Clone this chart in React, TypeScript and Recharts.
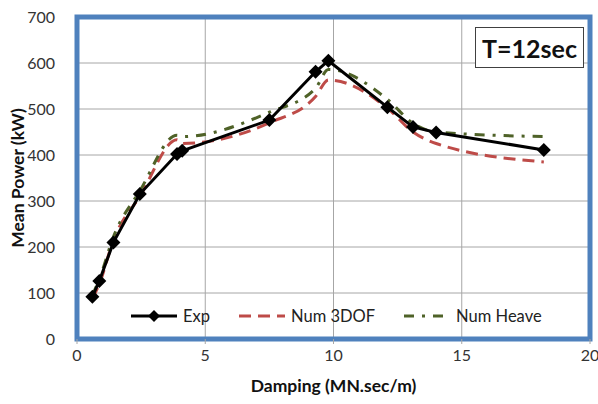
import { LineChart, Line, XAxis, YAxis, CartesianGrid, ReferenceArea, Label } from "recharts";

// damping values (MN.sec/m)
const damping = [0.6, 0.87, 1.42, 2.45, 3.9, 4.1, 7.5, 9.3, 9.8, 12.1, 13.1, 14.0, 18.2];
// mean power (kW)
const exp = [92, 126, 210, 315, 402, 409, 476, 581, 605, 504, 461, 449, 411];
const num3dof = [88, 120, 215, 310, 433, 425, 470, 527, 563, 502, 450, 425, 385];
const numHeave = [95, 130, 222, 322, 443, 440, 493, 545, 586, 521, 469, 450, 440];

const xTicks = [0, 5, 10, 15, 20];
const yTicks = [0, 100, 200, 300, 400, 500, 600, 700];

const data = damping.map((d, i) => ({
  damping: d,
  exp: exp[i],
  num3dof: num3dof[i],
  numHeave: numHeave[i],
}));

const FONT = "Lato, 'Open Sans', sans-serif";
const RED = "#BE4B48";
const GREEN = "#4F6228";
const BLUE = "#4F81BD";
const RED_DASH = "12 7";
const GREEN_DASH = "10 8 3 8";

function Diamond(props: any) {
  const { cx, cy } = props;
  if (cx == null || cy == null) return null;
  const r = 7;
  return (
    <path
      d={`M${cx},${cy - r} L${cx + r},${cy} L${cx},${cy + r} L${cx - r},${cy} Z`}
      fill="#000"
    />
  );
}

function LegendBox() {
  const items = [
    { name: "Exp", color: "#000", dash: undefined, marker: true, gap: 27 },
    { name: "Num 3DOF", color: RED, dash: RED_DASH, marker: false, gap: 27 },
    { name: "Num Heave", color: GREEN, dash: GREEN_DASH, marker: false, gap: 0 },
  ];
  return (
    <div style={{ display: "flex", fontFamily: FONT, fontSize: 16.5, color: "#222" }}>
      {items.map((it) => (
        <div key={it.name} style={{ display: "flex", alignItems: "center", marginRight: it.gap }}>
          <svg width={50} height={14}>
            <line x1={2} y1={7} x2={48} y2={7} stroke={it.color} strokeWidth={3} strokeDasharray={it.dash} />
            {it.marker && <path d="M25,1 L31,7 L25,13 L19,7 Z" fill="#000" />}
          </svg>
          <span style={{ marginLeft: 4 }}>{it.name}</span>
        </div>
      ))}
    </div>
  );
}

export default function App() {
  return (
    <div style={{ position: "fixed", left: 0, top: 0, width: 598, height: 404, background: "#fff" }}>
      <LineChart
        width={598}
        height={404}
        data={data}
        margin={{ top: 17, right: 8, bottom: 20, left: 0 }}
        style={{ overflow: "visible" }}
      >
        <CartesianGrid stroke="#A6A6A6" strokeWidth={1} />
        <XAxis
          dataKey="damping"
          type="number"
          domain={[0, 20]}
          ticks={xTicks}
          height={45}
          axisLine={false}
          tickSize={5}
          tickLine={{ stroke: "#A6A6A6" }}
          tick={{ fill: "#333", fontSize: 16, fontFamily: FONT }}
          tickMargin={6}
        >
          <Label
            value="Damping (MN.sec/m)"
            position="insideBottom"
            offset={-8}
            style={{ fontFamily: FONT, fontSize: 17.5, fontWeight: 700, fill: "#111" }}
          />
        </XAxis>
        <YAxis
          type="number"
          domain={[0, 700]}
          ticks={yTicks}
          width={77}
          axisLine={false}
          tickLine={false}
          tick={{ fill: "#333", fontSize: 16, fontFamily: FONT }}
          tickMargin={16}
        >
          <Label
            value="Mean Power (kW)"
            angle={-90}
            position="insideLeft"
            offset={18}
            style={{ fontFamily: FONT, fontSize: 17.5, fontWeight: 700, fill: "#111", textAnchor: "middle" }}
          />
        </YAxis>
        <ReferenceArea x1={0} x2={20} y1={0} y2={700} fill="none" stroke={BLUE} strokeWidth={5} />
        <Line
          dataKey="num3dof"
          type="monotone"
          stroke={RED}
          strokeWidth={3}
          strokeDasharray={RED_DASH}
          dot={false}
          isAnimationActive={false}
        />
        <Line
          dataKey="numHeave"
          type="monotone"
          stroke={GREEN}
          strokeWidth={3}
          strokeDasharray={GREEN_DASH}
          dot={false}
          isAnimationActive={false}
        />
        <Line
          dataKey="exp"
          type="linear"
          stroke="#000"
          strokeWidth={3}
          dot={<Diamond />}
          isAnimationActive={false}
        />
      </LineChart>
      <div style={{ position: "absolute", left: 129, top: 306 }}>
        <LegendBox />
      </div>
      <div
        style={{
          position: "absolute",
          left: 475,
          top: 27,
          width: 107,
          height: 39,
          border: "1px solid #404040",
          background: "#fff",
          display: "flex",
          alignItems: "center",
          justifyContent: "center",
          fontFamily: FONT,
          fontWeight: 700,
          fontSize: 25,
          color: "#111",
        }}
      >
        T=12sec
      </div>
    </div>
  );
}
